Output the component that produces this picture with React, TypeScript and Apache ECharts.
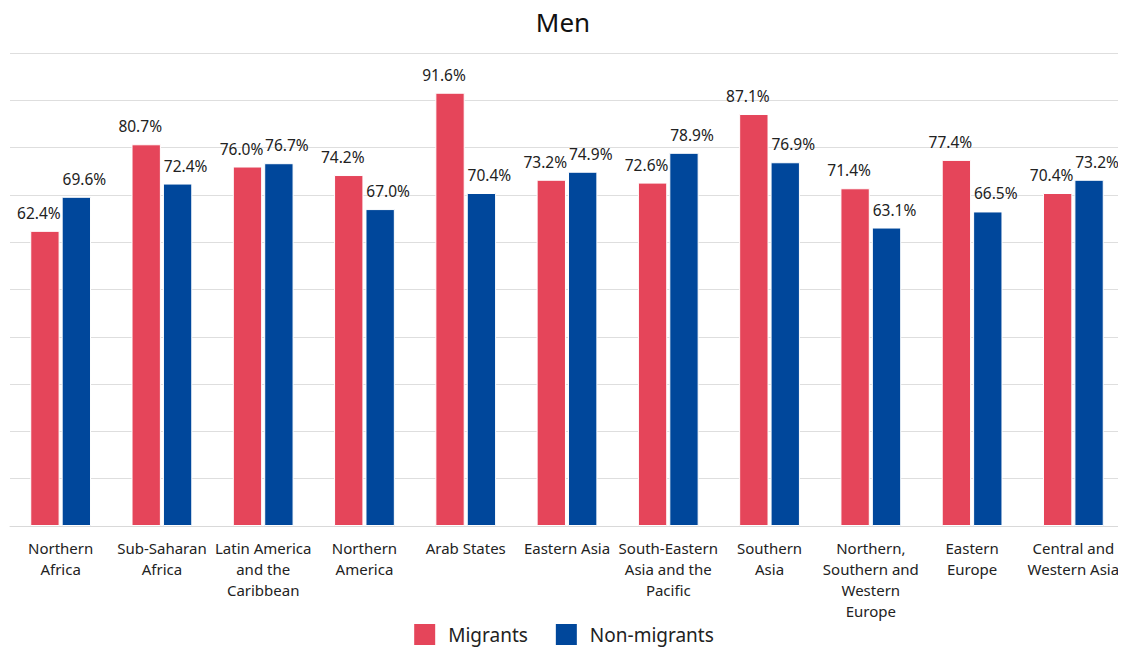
import React, { useEffect, useRef } from "react";
import * as echarts from "echarts";

const categories = [
  "Northern\nAfrica",
  "Sub-Saharan\nAfrica",
  "Latin America\nand the\nCaribbean",
  "Northern\nAmerica",
  "Arab States",
  "Eastern Asia",
  "South-Eastern\nAsia and the\nPacific",
  "Southern\nAsia",
  "Northern,\nSouthern and\nWestern\nEurope",
  "Eastern\nEurope",
  "Central and\nWestern Asia",
];
const migrants = [62.4, 80.7, 76.0, 74.2, 91.6, 73.2, 72.6, 87.1, 71.4, 77.4, 70.4];
const nonMigrants = [69.6, 72.4, 76.7, 67.0, 70.4, 74.9, 78.9, 76.9, 63.1, 66.5, 73.2];

const FONT = "Noto Sans";

export default function App() {
  const ref = useRef<HTMLDivElement>(null);
  useEffect(() => {
    if (!ref.current) return;
    const chart = echarts.init(ref.current, undefined, { renderer: "svg" });
    const mkLabel = (dx: number) => ({
      show: true,
      position: "top" as const,
      distance: 10,
      offset: [dx, 0],
      fontFamily: FONT,
      fontSize: 15.5,
      color: "#222",
      formatter: (p: any) => p.value.toFixed(1) + "%",
    });
    chart.setOption({
      animation: false,
      title: {
        text: "Men",
        left: "center",
        top: 4,
        textStyle: { fontFamily: FONT, fontSize: 26, fontWeight: "normal", color: "#111" },
      },
      legend: {
        bottom: 2,
        left: "center",
        itemWidth: 23,
        itemHeight: 23,
        itemGap: 26,
        icon: "rect",
        textStyle: { fontFamily: FONT, fontSize: 19, color: "#222", padding: [0, 0, 0, 7] },
      },
      grid: { left: 10, right: 2, top: 53, bottom: 128, containLabel: false },
      xAxis: {
        type: "category",
        data: categories,
        axisTick: { show: false },
        axisLine: { lineStyle: { color: "#d9d9d9" } },
        axisLabel: {
          interval: 0,
          fontFamily: FONT,
          fontSize: 15,
          color: "#222",
          lineHeight: 21,
          margin: 11,
        },
      },
      yAxis: {
        type: "value",
        min: 0,
        max: 100,
        interval: 10,
        axisLabel: { show: false },
        splitLine: { lineStyle: { color: "#dedede", width: 1 } },
      },
      series: [
        {
          name: "Migrants",
          type: "bar",
          data: migrants,
          barGap: "7%",
          barCategoryGap: "40%",
          itemStyle: { color: "#E5455A", borderColor: "#fff", borderWidth: 1 },
          label: mkLabel(-6),
        },
        {
          name: "Non-migrants",
          type: "bar",
          data: nonMigrants,
          itemStyle: { color: "#00479B", borderColor: "#fff", borderWidth: 1 },
          label: mkLabel(8),
        },
      ],
    });
    return () => chart.dispose();
  }, []);
  return <div ref={ref} style={{ width: 1126, height: 654, marginLeft: -8, marginTop: -8 }} />;
}
